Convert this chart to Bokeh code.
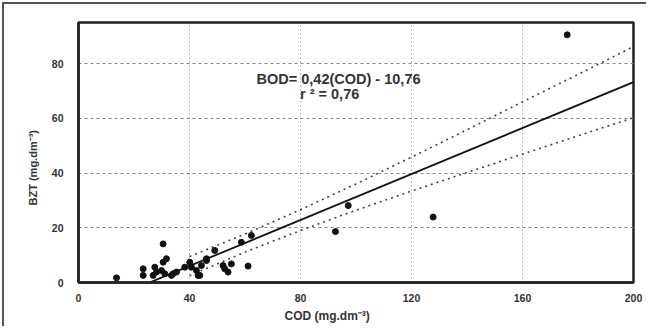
from bokeh.plotting import figure
from bokeh.models import Range1d, FixedTicker, Title
from bokeh.embed import file_html
from bokeh.resources import INLINE
from bokeh.core.properties import value

# Data
cod = [13.7, 30.5, 23.3, 23.3, 27.5, 28.1, 26.9, 31.7, 30.5, 29.9, 31.1, 34.1, 33.5, 35.3,
       38.3, 40.1, 40.7, 42.5, 43.1, 44.3, 46.1, 43.7, 46.1, 49.1, 52.1, 53.9, 55.1, 58.7,
       62.3, 61.1, 52.7, 92.6, 97.2, 127.8, 176.1]
bzt = [1.7, 14.1, 5.0, 2.6, 5.6, 3.8, 2.6, 8.7, 7.4, 4.4, 3.2, 3.2, 2.6, 3.8,
       5.6, 7.4, 5.6, 4.4, 2.6, 6.2, 8.7, 2.6, 8.0, 11.7, 6.2, 3.8, 6.8, 14.7,
       17.2, 6.0, 5.0, 18.6, 28.1, 23.9, 90.5]

slope = 0.42
intercept = -10.76
fit_cod = [25.6, 200]
fit_bod = [slope * c + intercept for c in fit_cod]

band_cod = [40, 60, 80, 100, 120, 140, 160, 180, 200]
band_upper = [9.5, 17.7, 26.6, 36.0, 45.8, 55.8, 66.0, 76.0, 86.2]
band_lower = [2.5, 11.1, 19.0, 26.4, 33.4, 40.2, 46.9, 53.6, 60.2]

x_ticks = [0, 40, 80, 120, 160, 200]
y_ticks = [0, 20, 40, 60, 80]

W, H = 644, 324
p = figure(width=W, height=H, output_backend="svg", toolbar_location=None,
           x_range=Range1d(0, 200), y_range=Range1d(0, 95),
           min_border_left=74, min_border_top=18, min_border_right=15, min_border_bottom=46)
p.styles = {"margin-left": "2px", "margin-top": "2px",
            "border-left": "2px solid #555", "border-top": "2px solid #555"}
p.background_fill_color = "white"
p.border_fill_color = "white"
p.outline_line_color = "#222"
p.outline_line_width = 2.5

for ax in (p.xaxis[0], p.yaxis[0]):
    ax.axis_line_color = "#222"
    ax.axis_line_width = 2.5
    ax.major_tick_line_color = None
    ax.minor_tick_line_color = None
    ax.major_label_text_font = "Liberation Sans"
    ax.major_label_text_font_style = "bold"
    ax.major_label_text_font_size = "10.5px"
    ax.major_label_text_color = "#333"
p.xaxis.ticker = FixedTicker(ticks=x_ticks)
p.yaxis.ticker = FixedTicker(ticks=y_ticks)
p.xaxis.major_label_standoff = 5
p.yaxis.major_label_standoff = 9

p.xgrid.ticker = FixedTicker(ticks=[40, 80, 120, 160])
p.xgrid.grid_line_color = "#888"
p.xgrid.grid_line_dash = "1 3"
p.xgrid.grid_line_width = 1
p.ygrid.ticker = FixedTicker(ticks=[20, 40, 60, 80])
p.ygrid.grid_line_color = "#888"
p.ygrid.grid_line_dash = "3 3"
p.ygrid.grid_line_width = 1

p.line(band_cod, band_upper, line_color="#444", line_width=1.6, line_dash="2 4")
p.line(band_cod, band_lower, line_color="#444", line_width=1.6, line_dash="2 4")
p.line(fit_cod, fit_bod, line_color="#111", line_width=1.8)
p.scatter(cod, bzt, size=6, fill_color="#111", line_color="#111")

p.text(x=[93.7], y=[74.2], text=["BOD= 0,42(COD) - 10,76"], text_font=value("Liberation Sans"),
       text_font_style="bold", text_font_size="14.5px", text_align="center",
       text_baseline="middle", text_color="#333")
p.text(x=[90.5], y=[68.7], text=["r ² = 0,76"], text_font=value("Liberation Sans"),
       text_font_style="bold", text_font_size="14.5px", text_align="center",
       text_baseline="middle", text_color="#333")

# axis titles as side titles (offset from the frame's start)
p.add_layout(Title(text="BZT (mg.dm⁻³)", align="left", offset=77, standoff=20,
                   text_font="Liberation Sans", text_font_style="bold", text_font_size="11px",
                   text_color="#333"), "left")
p.add_layout(Title(text="COD (mg.dm⁻³)", align="left", offset=206, standoff=5,
                   text_font="Liberation Sans", text_font_style="bold", text_font_size="12px",
                   text_color="#333"), "below")

open("out.html", "w").write(file_html(p, INLINE))
